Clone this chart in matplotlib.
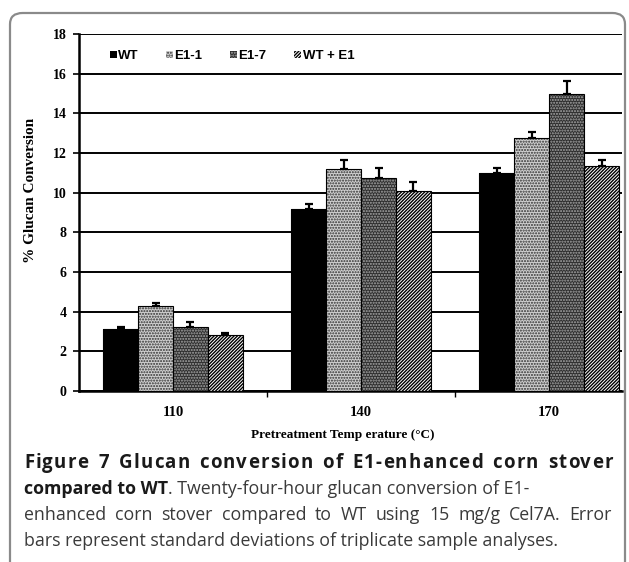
import numpy as np
import matplotlib.pyplot as plt
from matplotlib.patches import FancyBboxPatch

# Data
temps = ['110', '140', '170']
series = ['WT', 'E1-1', 'E1-7', 'WT + E1']
wt = [3.12, 9.18, 10.99]
e1_1 = [4.29, 11.19, 12.76]
e1_7 = [3.23, 10.72, 14.96]
wt_e1 = [2.82, 10.10, 11.35]
wt_err = [0.10, 0.23, 0.23]
e1_1_err = [0.16, 0.44, 0.28]
e1_7_err = [0.27, 0.50, 0.67]
wt_e1_err = [0.10, 0.42, 0.28]

values = [wt, e1_1, e1_7, wt_e1]
errors = [wt_err, e1_1_err, e1_7_err, wt_e1_err]
faces = ['black', '#d0d0d0', '#2e2e2e', 'white']
hatch_cols = ['black', '#303030', '#a8a8a8', 'black']
hatches = ['', '......', '......', '//////////']

plt.rcParams['hatch.linewidth'] = 1.0

W, H = 629, 562
fig = plt.figure(figsize=(W / 100, H / 100), dpi=100)

# rounded frame round the whole figure
frame = FancyBboxPatch((10 / W, -0.1), 615 / W, 1.1 - 13 / H,
                       boxstyle='round,pad=0,rounding_size=0.02',
                       transform=fig.transFigure, fill=False,
                       edgecolor='#8a8a8a', linewidth=1.6)
fig.patches.append(frame)

ax = fig.add_axes([79 / W, 1 - 391 / H, 543 / W, 357 / H])

x = np.arange(len(temps))
bw = 0.186
handles = []
for i, (vals, errs) in enumerate(zip(values, errors)):
    pos = x + (i - 1.5) * bw
    b = ax.bar(pos, vals, bw, color=faces[i], hatch=hatches[i],
               edgecolor=hatch_cols[i], linewidth=0, zorder=3, label=series[i])
    ax.bar(pos, vals, bw, fill=False, edgecolor='black', linewidth=0.8, zorder=3)
    handles.append(b)
    ax.errorbar(pos, vals, yerr=[np.zeros(len(vals)), errs], fmt='none',
                ecolor='black', elinewidth=1.6, capsize=3, capthick=1.6,
                zorder=4)

ax.set_xlim(-0.5, 2.388)
ax.set_ylim(0, 18)
ax.set_yticks(np.arange(0, 19, 2))
ax.yaxis.grid(True, color='black', linewidth=1.4, zorder=0)
ax.set_axisbelow(True)

serif = dict(family='Liberation Serif', weight='bold')
ax.set_yticklabels([str(v) for v in range(0, 19, 2)], fontdict=dict(size=10, **serif))
ax.set_xticks([0.5, 1.5])
ax.set_xticklabels([])
ax.set_xticks(x, minor=True)
ax.set_xticklabels(temps, minor=True, fontdict=dict(size=10.5, **serif))
ax.tick_params(axis='x', which='major', direction='out', length=4, width=1)
ax.tick_params(axis='x', which='minor', length=0, pad=11)
ax.tick_params(axis='y', direction='out', length=4, width=1.2, pad=5)

for s in ['top', 'right']:
    ax.spines[s].set_visible(False)
ax.spines['left'].set_linewidth(1.8)
ax.spines['bottom'].set_linewidth(1.8)

fig.text(31 / W, 1 - 190 / H, '% Glucan Conversion', rotation=90,
         ha='center', va='center', size=11, **serif)
fig.text(343 / W, 1 - 435 / H, 'Pretreatment Temp erature (°C)',
         ha='center', va='center', size=9.5, **serif)

ax.legend(handles=handles, labels=series, ncol=4, loc='center left',
          bbox_to_anchor=(0.045, 0.938), frameon=False,
          handlelength=0.5, handleheight=0.5, handletextpad=0.12,
          columnspacing=2.1, borderpad=0,
          prop=dict(family='Liberation Sans', weight='bold', size=9.5))

# caption
cap = dict(family='Open Sans', size=12.8)
fig.canvas.draw()
renderer = fig.canvas.get_renderer()


def width(s, **kw):
    t = fig.text(0, 0, s, **kw)
    w = t.get_window_extent(renderer).width
    t.remove()
    return w


def letterspace(line, y, x0, x1, track, **kw):
    # fixed extra room between letters, the rest goes into the word gaps
    sp = width('a a', **kw) - width('aa', **kw)
    widths = [sp if c == ' ' else width(c, **kw) for c in line]
    n_sp = line.count(' ')
    spare = x1 - x0 - sum(widths) - track * (len(line) - 1)
    cur = x0
    for c, w in zip(line, widths):
        if c != ' ':
            fig.text(cur / W, y, c, va='baseline', **kw)
        else:
            cur += spare / n_sp
        cur += w + track


def justify(words, y, x0, x1, **kw):
    texts = [fig.text(0, y, w, va='baseline', **kw) for w in words]
    widths = [t.get_window_extent(renderer).width for t in texts]
    gap = (x1 - x0 - sum(widths)) / (len(words) - 1)
    cur = x0
    for t, w in zip(texts, widths):
        t.set_x(cur / W)
        cur += w + gap


def run(parts, y, x0):
    cur = x0
    for s, kw in parts:
        t = fig.text(cur / W, y, s, va='baseline', **kw)
        cur += t.get_window_extent(renderer).width


bold = dict(cap, weight='bold', color='#1a1a1a')
norm = dict(cap, color='#3a3a3a')
letterspace('Figure 7 Glucan conversion of E1-enhanced corn stover',
            1 - 468 / H, 24, 613, 1.2, **dict(bold, size=13.4))
run([('compared to WT', bold), ('. Twenty-four-hour glucan conversion of E1-', norm)],
    1 - 494 / H, 24)
justify('enhanced corn stover compared to WT using 15 mg/g Cel7A. Error'.split(),
        1 - 520 / H, 24, 612, **norm)
run([('bars represent standard deviations of triplicate sample analyses.', norm)],
    1 - 546 / H, 24)

fig.savefig('out.png', dpi=100)
